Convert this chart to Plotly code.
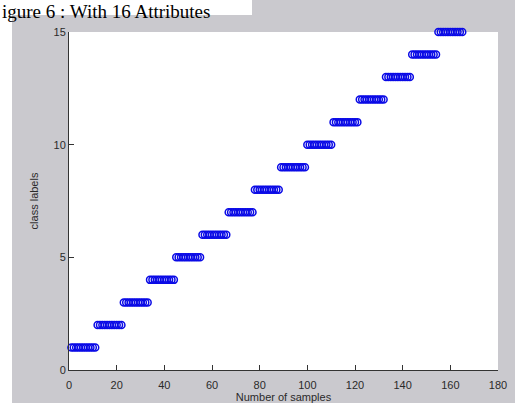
import plotly.graph_objects as go

# Sample index (1..165) and the class label assigned to each sample
sample_number = list(range(1, 166))
class_label = [
    1, 1, 1, 1, 1, 1, 1, 1, 1, 1, 1,
    2, 2, 2, 2, 2, 2, 2, 2, 2, 2, 2,
    3, 3, 3, 3, 3, 3, 3, 3, 3, 3, 3,
    4, 4, 4, 4, 4, 4, 4, 4, 4, 4, 4,
    5, 5, 5, 5, 5, 5, 5, 5, 5, 5, 5,
    6, 6, 6, 6, 6, 6, 6, 6, 6, 6, 6,
    7, 7, 7, 7, 7, 7, 7, 7, 7, 7, 7,
    8, 8, 8, 8, 8, 8, 8, 8, 8, 8, 8,
    9, 9, 9, 9, 9, 9, 9, 9, 9, 9, 9,
    10, 10, 10, 10, 10, 10, 10, 10, 10, 10, 10,
    11, 11, 11, 11, 11, 11, 11, 11, 11, 11, 11,
    12, 12, 12, 12, 12, 12, 12, 12, 12, 12, 12,
    13, 13, 13, 13, 13, 13, 13, 13, 13, 13, 13,
    14, 14, 14, 14, 14, 14, 14, 14, 14, 14, 14,
    15, 15, 15, 15, 15, 15, 15, 15, 15, 15, 15,
]

x_ticks = [0, 20, 40, 60, 80, 100, 120, 140, 160, 180]
y_ticks = [0, 5, 10, 15]

W, H = 515, 403
L, R, T, B = 69, 17, 32, 33
pw, ph = W - L - R, H - T - B


def px_x(p):
    return (p - L) / pw


def px_y(p):
    return (H - B - p) / ph


fig = go.Figure()
fig.add_trace(go.Scatter(
    x=sample_number, y=class_label, mode="markers",
    marker=dict(symbol="circle-open", size=7, color="rgb(10,10,230)",
                line=dict(width=1.5, color="rgb(10,10,230)")),
    showlegend=False, cliponaxis=False,
))

axis_font = dict(family="Liberation Sans, Arial, sans-serif", size=11, color="#2a2a2a")

fig.update_layout(
    width=W, height=H,
    margin=dict(l=L, r=R, t=T, b=B, pad=0, autoexpand=False),
    paper_bgcolor="white", plot_bgcolor="white",
    font=axis_font,
    xaxis=dict(range=[0, 180], tickvals=x_ticks, ticks="inside", ticklen=5,
               tickcolor="#333", showline=True, linecolor="#333", linewidth=1,
               showgrid=False, zeroline=False, tickfont=axis_font,
               ticklabelstandoff=5, automargin=False,
               title=dict(text="Number of samples", font=axis_font, standoff=9)),
    yaxis=dict(range=[0, 15], tickvals=y_ticks, ticks="inside", ticklen=5,
               tickcolor="#333", showline=True, linecolor="#333", linewidth=1,
               showgrid=False, zeroline=False, tickfont=axis_font,
               automargin=False,
               title=dict(text="class labels", font=axis_font, standoff=12)),
    shapes=[
        # grey figure window
        dict(type="rect", xref="paper", yref="paper", layer="below",
             x0=px_x(12), x1=px_x(W), y0=px_y(H), y1=px_y(0),
             fillcolor="rgb(202,201,206)", line=dict(width=0)),
        # white caption strip
        dict(type="rect", xref="paper", yref="paper", layer="below",
             x0=px_x(0), x1=px_x(252), y0=px_y(15), y1=px_y(0),
             fillcolor="white", line=dict(width=0)),
        # white axes area
        dict(type="rect", xref="paper", yref="paper", layer="below",
             x0=0, x1=1, y0=0, y1=1,
             fillcolor="white", line=dict(width=0)),
    ],
    annotations=[
        dict(text="igure 6 : With 16 Attributes", xref="paper", yref="paper",
             x=px_x(1), y=px_y(0), xanchor="left", yanchor="top",
             showarrow=False, borderpad=0,
             font=dict(family="Liberation Serif, Times New Roman, serif",
                       size=19, color="black")),
    ],
)

fig.write_html("out.html")
